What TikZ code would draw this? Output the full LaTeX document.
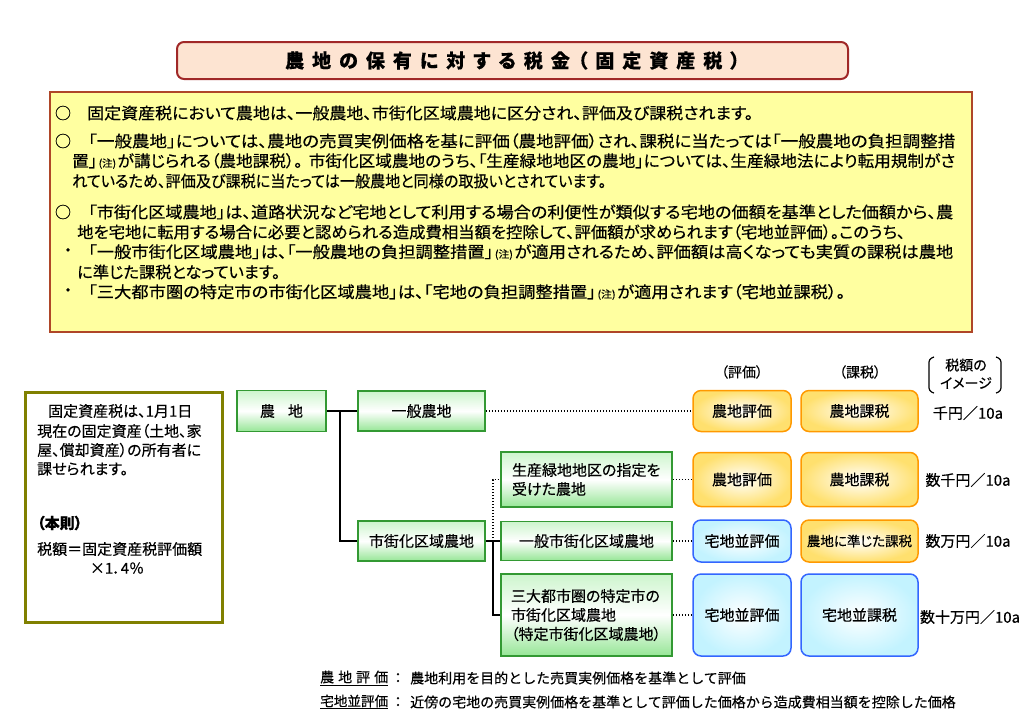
\documentclass[tikz,border=0pt]{standalone}
\usepackage{fontspec}
\usepackage{graphicx}
\setmainfont{Noto Sans CJK JP}[RawFeature={+palt}, FakeBold=0.4]
\newfontfamily\jpf{Noto Sans CJK JP}[FakeBold=0.4]
\newcommand\fsz[1]{\fontsize{#1}{#1}\selectfont}
\newcommand\fitw[2]{\resizebox{#1pt}{\height}{#2}}
\newcommand\tk{\kern8pt}
\newcommand\chu{\hspace{1.5pt}{\fsz{10}(注)}\hspace{1.5pt}}
\definecolor{titlefill}{RGB}{253,228,210}
\definecolor{titleline}{RGB}{160,40,40}
\definecolor{yfill}{RGB}{255,255,160}
\definecolor{yline}{RGB}{175,70,40}
\definecolor{olivebd}{RGB}{128,128,0}
\definecolor{gline}{RGB}{51,153,51}
\definecolor{gtop}{RGB}{205,245,205}
\definecolor{gbot}{RGB}{150,230,150}
\definecolor{oline}{RGB}{255,153,0}
\definecolor{ofill}{RGB}{255,224,110}
\definecolor{bline}{RGB}{51,102,255}
\definecolor{bfill}{RGB}{195,243,255}
\begin{document}
\begin{tikzpicture}[x=1pt,y=-1pt,
  every node/.style={inner sep=0pt},
  greenbox/.style={draw=gline, line width=1.5pt, top color=gtop, bottom color=gbot, middle color=white, font=\fsz{15}},
  obox/.style={draw=oline, line width=1.5pt, rounded corners=8pt, inner color=white, outer color=ofill, font=\fsz{15}},
  bbox/.style={draw=bline, line width=1.5pt, rounded corners=8pt, inner color=white, outer color=bfill, font=\fsz{15}},
  tree/.style={draw=black, line width=2pt},
  dotline/.style={draw=black, line width=1.5pt, dash pattern=on 1.5pt off 1.5pt},
  yl/.style={anchor=west, font=\fsz{16}},
  lb/.style={anchor=west, font=\fsz{15}},
  amt/.style={font=\fsz{15}},
  hd/.style={font=\fsz{14}}
]
\useasboundingbox (0,0) rectangle (1024,724);

% title
\node[draw=titleline, fill=titlefill, line width=2pt, rounded corners=7pt, minimum width=671pt, minimum height=37pt] (title) at (512.5,60.5)
  {\fsz{19}\bfseries 農\tk 地\tk の\tk 保\tk 有\tk に\tk 対\tk す\tk る\tk 税\tk 金\tk （\tk 固\tk 定\tk 資\tk 産\tk 税\tk ）};

% note box
\node[draw=yline, fill=yfill, line width=2pt, minimum width=922pt, minimum height=240pt] (note) at (511,212) {};
\node[font=\fsz{16}] (b1) at (63,113) {○};
\node[yl] (l1) at (87,113) {\fitw{666}{固定資産税において農地は、一般農地、市街化区域農地に区分され、評価及び課税されます。}};
\node[font=\fsz{16}] (b2) at (63,141) {○};
\node[yl] (l2) at (88,141) {\fitw{867}{「一般農地」については、農地の売買実例価格を基に評価（農地評価）され、課税に当たっては「一般農地の負担調整措}};
\node[yl] (l3) at (72,161) {\fitw{883}{置」\chu が講じられる（農地課税）。\hspace{6pt}市街化区域農地のうち、「生産緑地地区の農地」については、生産緑地法により転用規制がさ}};
\node[yl] (l4) at (72,181) {\fitw{534}{れているため、評価及び課税に当たっては一般農地と同様の取扱いとされています。}};
\node[font=\fsz{16}] (b5) at (63,212) {○};
\node[yl] (l5) at (88,212) {\fitw{865}{「市街化区域農地」は、道路状況など宅地として利用する場合の利便性が類似する宅地の価額を基準とした価額から、農}};
\node[yl] (l6) at (77,232) {\fitw{828}{地を宅地に転用する場合に必要と認められる造成費相当額を控除して、評価額が求められます（宅地並評価）。このうち、}};
\node[font=\fsz{16}] (b7) at (68,252) {・};
\node[yl] (l7) at (88,252) {\fitw{865}{「一般市街化区域農地」は、「一般農地の負担調整措置」\chu が適用されるため、評価額は高くなっても実質の課税は農地}};
\node[yl] (l8) at (77,272) {\fitw{203}{に準じた課税となっています。}};
\node[font=\fsz{16}] (b9) at (68,292) {・};
\node[yl] (l9) at (88,292) {\fitw{757}{「三大都市圏の特定市の市街化区域農地」は、「宅地の負担調整措置」\chu が適用されます（宅地並課税）。}};

% left rule box
\node[draw=olivebd, line width=3pt, fill=white, minimum width=197pt, minimum height=230pt] (rule) at (123.5,507) {};
\node[lb] (r1) at (48,411) {固定資産税は、1月1日};
\node[lb] (r2) at (37,431) {現在の固定資産（土地、家};
\node[lb] (r3) at (37,450) {屋、償却資産）の所有者に};
\node[lb] (r4) at (37,469) {課せられます。};
\node[lb] (r5) at (37,523) {\bfseries （本則）};
\node[lb] (r6) at (37,549) {税額＝固定資産税評価額};
\node[font=\fsz{15}] (r7) at (117,568) {×1．4％};

% tree
\node[greenbox, minimum width=89pt, minimum height=41pt] (nochi) at (281.5,411) {農\hspace{13pt}地};
\node[greenbox, minimum width=127pt, minimum height=40pt] (ippan) at (421.5,411) {一般農地};
\node[greenbox, minimum width=127pt, minimum height=40pt] (shigai) at (421.5,541) {市街化区域農地};
\node[greenbox, minimum width=171pt, minimum height=55pt, text width=149pt, align=left, font=\fontsize{15}{19}\selectfont] (seisan) at (586.5,479.5) {生産緑地地区の指定を\\受けた農地};
\node[greenbox, minimum width=171pt, minimum height=39pt] (ippanshigai) at (586.5,541) {一般市街化区域農地};
\node[greenbox, minimum width=171pt, minimum height=82pt, text width=151pt, align=left, font=\fontsize{15}{19}\selectfont] (sandai) at (586.5,615) {三大都市圏の特定市の\\市街化区域農地\\（特定市街化区域農地）};

% headers
\node[hd] (h1) at (742,372) {（評価）};
\node[hd] (h2) at (860,372) {（課税）};
\node[hd] (h3a) at (966,365) {税額の};
\node[hd] (h3b) at (966,383) {イメージ};
\draw[line width=1.2pt, rounded corners=3pt] (934,357) -- (929,359) -- (929,391) -- (934,393);
\draw[line width=1.2pt, rounded corners=3pt] (996,357) -- (1001,359) -- (1001,391) -- (996,393);

% value boxes
\node[obox, minimum width=98pt, minimum height=41pt] (v1) at (742,411) {農地評価};
\node[obox, minimum width=117pt, minimum height=41pt] (t1) at (859.5,411) {農地課税};
\node[obox, minimum width=98pt, minimum height=54pt] (v2) at (742,479.5) {農地評価};
\node[obox, minimum width=117pt, minimum height=54pt] (t2) at (859.5,479.5) {農地課税};
\node[bbox, minimum width=98pt, minimum height=42pt] (v3) at (742,541) {宅地並評価};
\node[obox, minimum width=117pt, minimum height=42pt, font=\fsz{13.5}] (t3) at (859.5,541) {農地に準じた課税};
\node[bbox, minimum width=98pt, minimum height=82pt] (v4) at (742,615) {宅地並評価};
\node[bbox, minimum width=117pt, minimum height=82pt] (t4) at (859.5,615) {宅地並課税};

% amounts
\node[amt] (a1) at (968,413) {千円／10a};
\node[amt] (a2) at (968,480) {数千円／10a};
\node[amt] (a3) at (968,541) {数万円／10a};
\node[amt] (a4) at (970,617) {数十万円／10a};

% connectors
\coordinate (j1) at (340,411);
\coordinate (j2) at (493,541);
\draw[tree] (nochi.east) -- (j1) |- (shigai.west);
\draw[tree] (j1) -- (ippan.west);
\draw[tree] (shigai.east) -- (ippanshigai.west);
\draw[tree] (j2) |- (sandai.west);
\draw[dotline] (j2) |- (seisan.west);
\draw[dotline] (ippan.east) -- (v1.west);
\draw[dotline] (seisan.east) -- (v2.west);
\draw[dotline] (ippanshigai.east) -- (v3.west);
\draw[dotline] (sandai.east) -- (v4.west);

% legend
\node[anchor=west, font=\jpf\fsz{14}] (g1) at (320,678) {\underline{農\hspace{4pt}地\hspace{4pt}評\hspace{4pt}価}};
\node[font=\jpf\fsz{14}] (c1) at (398,678) {：};
\node[anchor=west, font=\jpf\fsz{14}] (d1) at (410,678) {農地利用を目的とした売買実例価格を基準として評価};
\node[anchor=west, font=\jpf\fsz{13.6}] (g2) at (320,702) {\underline{宅地並評価}};
\node[font=\jpf\fsz{14}] (c2) at (398,702) {：};
\node[anchor=west, font=\jpf\fsz{14}] (d2) at (410,702) {近傍の宅地の売買実例価格を基準として評価した価格から造成費相当額を控除した価格};
\end{tikzpicture}
\end{document}
